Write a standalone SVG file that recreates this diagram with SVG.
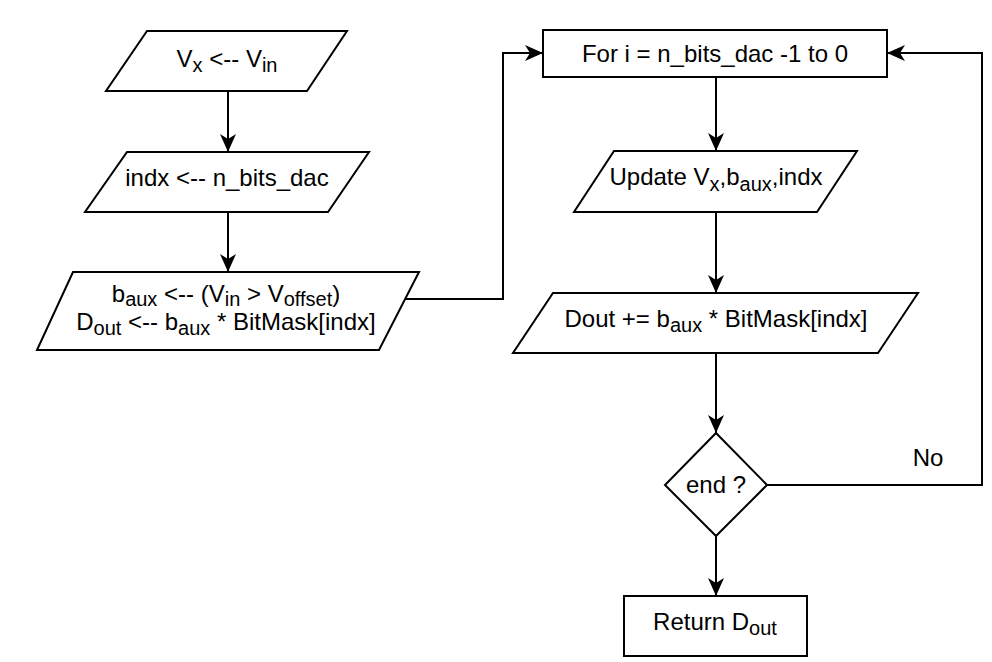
<svg xmlns="http://www.w3.org/2000/svg" width="992" height="662" viewBox="0 0 992 662">
<style>
.shape{fill:#ffffff;stroke:#000000;stroke-width:2}
.conn{fill:none;stroke:#000000;stroke-width:2}
text{font-family:"Liberation Sans",Arial,Helvetica,sans-serif;font-size:24px;fill:#000000;text-anchor:middle}
.sub{font-size:20px}
</style>
<defs>
<marker id="arrow" markerUnits="userSpaceOnUse" viewBox="0 0 18 16" markerWidth="18" markerHeight="16" refX="18" refY="8" orient="auto">
<path d="M0,0 L18,8 L0,16 L5,8 Z" fill="#000000"/>
</marker>
</defs>
<rect width="992" height="662" fill="#ffffff"/>
<g id="connectors">
<path class="conn" d="M228,91 V152" marker-end="url(#arrow)"/>
<path class="conn" d="M228,212 V272" marker-end="url(#arrow)"/>
<path class="conn" d="M405,299 H503 V53 H543" marker-end="url(#arrow)"/>
<path class="conn" d="M716,77 V151" marker-end="url(#arrow)"/>
<path class="conn" d="M716,212 V293" marker-end="url(#arrow)"/>
<path class="conn" d="M716,353 V433" marker-end="url(#arrow)"/>
<path class="conn" d="M767,485 H982 V53 H887" marker-end="url(#arrow)"/>
<path class="conn" d="M716,536 V596" marker-end="url(#arrow)"/>
<text x="928" y="466">No</text>
</g>
<g id="vx_vin">
<polygon class="shape" points="147,31 347,31 307,91 106,91"/>
<text x="227" y="67">V<tspan class="sub" dy="5">x</tspan><tspan dy="-5"> &lt;-- V</tspan><tspan class="sub" dy="5">in</tspan></text>
</g>
<g id="indx">
<polygon class="shape" points="127,152 369,152 328,212 85,212"/>
<text x="227" y="186">indx &lt;-- n_bits_dac</text>
</g>
<g id="baux_dout">
<polygon class="shape" points="73,272 419,272 379,350 37,350"/>
<text x="226" y="302">b<tspan class="sub" dy="4">aux</tspan><tspan dy="-4"> &lt;-- (V</tspan><tspan class="sub" dy="4">in</tspan><tspan dy="-4"> &gt; V</tspan><tspan class="sub" dy="4">offset</tspan><tspan dy="-4">)</tspan></text>
<text x="226" y="330">D<tspan class="sub" dy="5">out</tspan><tspan dy="-5"> &lt;-- b</tspan><tspan class="sub" dy="5">aux</tspan><tspan dy="-5"> * BitMask[indx]</tspan></text>
</g>
<g id="for_loop">
<rect class="shape" x="543" y="30" width="344" height="47"/>
<text x="715" y="62">For i = n_bits_dac -1 to 0</text>
</g>
<g id="update">
<polygon class="shape" points="614,151 857,151 817,212 574,212"/>
<text x="716" y="185">Update V<tspan class="sub" dy="6">x</tspan><tspan dy="-6">,b</tspan><tspan class="sub" dy="6">aux</tspan><tspan dy="-6">,indx</tspan></text>
</g>
<g id="dout_acc">
<polygon class="shape" points="553,293 918,293 878,353 513,353"/>
<text x="716" y="327">Dout += b<tspan class="sub" dy="5">aux</tspan><tspan dy="-5"> * BitMask[indx]</tspan></text>
</g>
<g id="end_decision">
<polygon class="shape" points="716,433 767,485 716,536 665,485"/>
<text x="716" y="493">end ?</text>
</g>
<g id="return">
<rect class="shape" x="624" y="596" width="183" height="60"/>
<text x="715" y="630">Return D<tspan class="sub" dy="5">out</tspan></text>
</g>
</svg>
